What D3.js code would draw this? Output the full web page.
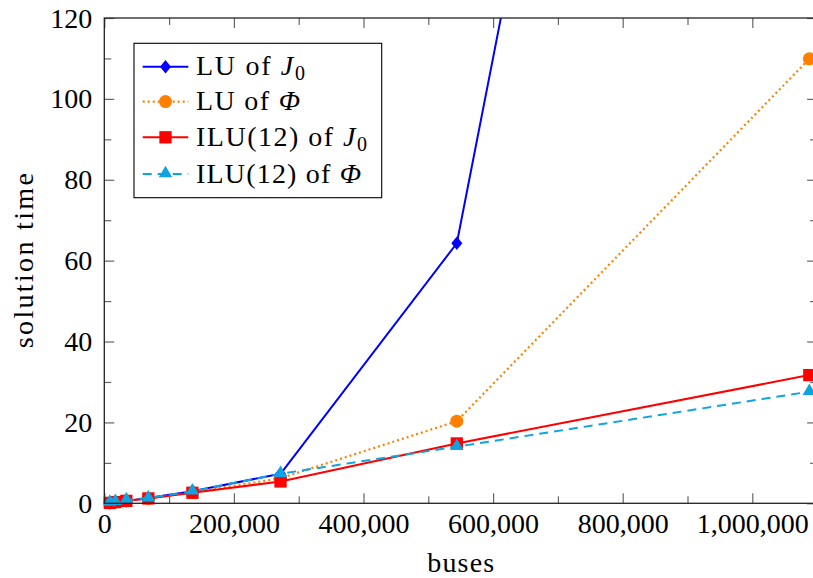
<!DOCTYPE html>
<html>
<head>
<meta charset="utf-8">
<script src="https://cdn.jsdelivr.net/npm/d3@7"></script>
<style>
  html, body { margin: 0; padding: 0; background: #fff; overflow: hidden; }
  svg { display: block; font-family: "Liberation Serif", "DejaVu Serif", serif; }
</style>
</head>
<body>
<svg id="chart" width="813" height="578"></svg>
<script>
// ---- data ----
const buses      = [8500, 17000, 34000, 68000, 136000, 272000, 544000, 1088000];
const luJ0       = [0.1, 0.3, 0.6, 1.3, 3.0, 7.3, 64.3, 510];
const luPhi      = [0.1, 0.3, 0.6, 1.2, 2.7, 6.2, 20.3, 109.9];
const iluJ0      = [0.1, 0.3, 0.6, 1.2, 2.6, 5.4, 14.8, 31.7];
const iluPhi     = [0.2, 0.4, 0.8, 1.3, 3.0, 7.3, 14.0, 27.6];
const xMajorTicks = [0, 200000, 400000, 600000, 800000, 1000000];
const xMinorTicks = [100000, 300000, 500000, 700000, 900000];
const yMajorTicks = [0, 20, 40, 60, 80, 100, 120];
const yMinorTicks = [10, 30, 50, 70, 90, 110];
const xTitle = "buses";
const yTitle = "solution time";

// ---- setup ----
const svg = d3.select("#chart");
const L = 104.3, R = 817.1, T = 18, B = 503.3;
const x = d3.scaleLinear().domain([0, 1100000]).range([L, R]);
const y = d3.scaleLinear().domain([0, 120]).range([B, T]);
const FS = 28;

const series = [
  {vals: luJ0,  color: "#0000ff", dash: null,    width: 2,   marker: "diamond", textW: 109,
   label: [["LU of ", "n"], ["J", "i"], ["0", "s"]]},
  {vals: luPhi, color: "#ff8000", dash: "2 3",   width: 2.2, marker: "circle", textW: 104,
   label: [["LU of ", "n"], ["Φ", "i"]]},
  {vals: iluJ0, color: "#ff0000", dash: null,    width: 2,   marker: "square", textW: 171,
   label: [["ILU(12) of ", "n"], ["J", "i"], ["0", "s"]]},
  {vals: iluPhi,color: "#0ea3e3", dash: "9 6",   width: 2,   marker: "triangle", textW: 165,
   label: [["ILU(12) of ", "n"], ["Φ", "i"]]}
];

const diamondPts = [[0, -6.8], [5.5, 0], [0, 6.8], [-5.5, 0]];
function drawMarker(g, type, cx, cy, color) {
  if (type === "diamond") {
    g.append("path").attr("d", d3.line()(diamondPts) + "Z")
      .attr("transform", `translate(${cx},${cy})`).attr("fill", color);
  } else if (type === "circle") {
    g.append("circle").attr("cx", cx).attr("cy", cy).attr("r", 6.5).attr("fill", color);
  } else if (type === "square") {
    g.append("path").attr("d", d3.symbol(d3.symbolSquare, 151)())
      .attr("transform", `translate(${cx},${cy})`).attr("fill", color);
  } else if (type === "triangle") {
    g.append("path").attr("d", d3.symbol(d3.symbolTriangle, 78)())
      .attr("transform", `translate(${cx},${cy - 0.5})`).attr("fill", color);
  }
}

// ---- axes ----
const tickColor = "#666";
function styleAxis(sel) {
  sel.select(".domain").remove();
  sel.selectAll("line").attr("stroke", tickColor).attr("stroke-width", 1.2);
}
svg.append("g").attr("transform", `translate(0,${B})`)
  .call(d3.axisBottom(x).tickValues(xMajorTicks).tickSizeInner(-10).tickSizeOuter(0)
        .tickFormat(d3.format(",")))
  .call(styleAxis)
  .call(g => g.selectAll("text").attr("y", 30).attr("dy", null)
        .attr("font-size", FS).attr("fill", "#000")
        .attr("font-family", "Liberation Serif"));
svg.append("g").attr("transform", `translate(0,${B})`)
  .call(d3.axisBottom(x).tickValues(xMinorTicks).tickSizeInner(-7).tickSizeOuter(0).tickFormat(""))
  .call(styleAxis);
svg.append("g").attr("transform", `translate(0,${T})`)
  .call(d3.axisTop(x).tickValues(xMajorTicks).tickSizeInner(-10).tickSizeOuter(0).tickFormat(""))
  .call(styleAxis);
svg.append("g").attr("transform", `translate(0,${T})`)
  .call(d3.axisTop(x).tickValues(xMinorTicks).tickSizeInner(-7).tickSizeOuter(0).tickFormat(""))
  .call(styleAxis);
svg.append("g").attr("transform", `translate(${L},0)`)
  .call(d3.axisLeft(y).tickValues(yMajorTicks).tickSizeInner(-10).tickSizeOuter(0))
  .call(styleAxis)
  .call(g => g.selectAll("text").attr("x", -12).attr("dy", null).attr("y", 9)
        .attr("font-size", FS).attr("fill", "#000")
        .attr("font-family", "Liberation Serif"));
svg.append("g").attr("transform", `translate(${L},0)`)
  .call(d3.axisLeft(y).tickValues(yMinorTicks).tickSizeInner(-7).tickSizeOuter(0).tickFormat(""))
  .call(styleAxis);
svg.append("g").attr("transform", `translate(${R},0)`)
  .call(d3.axisRight(y).tickValues(yMajorTicks).tickSizeInner(-10).tickSizeOuter(0).tickFormat(""))
  .call(styleAxis);
svg.append("g").attr("transform", `translate(${R},0)`)
  .call(d3.axisRight(y).tickValues(yMinorTicks).tickSizeInner(-7).tickSizeOuter(0).tickFormat(""))
  .call(styleAxis);

// ---- clip + series ----
svg.append("defs").append("clipPath").attr("id", "plotclip")
  .append("rect").attr("x", L).attr("y", T).attr("width", R - L).attr("height", B - T);

const plot = svg.append("g");
series.forEach(s => {
  const line = d3.line().x((d, i) => x(buses[i])).y(d => y(d));
  plot.append("path").datum(s.vals)
    .attr("clip-path", "url(#plotclip)")
    .attr("d", line).attr("fill", "none")
    .attr("stroke", s.color).attr("stroke-width", s.width)
    .attr("stroke-dasharray", s.dash)
    .attr("stroke-linejoin", "round");
  const mg = plot.append("g");
  s.vals.forEach((v, i) => {
    if (v <= 120) drawMarker(mg, s.marker, x(buses[i]), y(v), s.color);
  });
});

// ---- frame ----
svg.append("rect").attr("x", L).attr("y", T).attr("width", R - L).attr("height", B - T)
  .attr("fill", "none").attr("stroke", "#222").attr("stroke-width", 1.3);

// ---- titles ----
svg.append("text").attr("x", (L + R) / 2).attr("y", 572).attr("text-anchor", "middle")
  .attr("font-size", FS).attr("textLength", 67).attr("lengthAdjust", "spacing").text(xTitle);
svg.append("text").attr("transform", `translate(33,${(T + B) / 2}) rotate(-90)`)
  .attr("text-anchor", "middle").attr("font-size", FS)
  .attr("textLength", 175).attr("lengthAdjust", "spacing").text(yTitle);

// ---- legend ----
const lg = svg.append("g");
lg.append("rect").attr("x", 134).attr("y", 43.3).attr("width", 247.7).attr("height", 154.4)
  .attr("fill", "#fff").attr("stroke", "#000").attr("stroke-width", 1.1);
const rowY = [66.7, 101.6, 137.3, 174];
series.forEach((s, i) => {
  const yy = rowY[i];
  lg.append("line").attr("x1", 142.7).attr("x2", 188.3).attr("y1", yy).attr("y2", yy)
    .attr("stroke", s.color).attr("stroke-width", s.width)
    .attr("stroke-dasharray", s.dash);
  drawMarker(lg, s.marker, 165.5, yy, s.color);
  const t = lg.append("text").attr("x", 196).attr("y", yy + 8.5).attr("font-size", FS)
    .attr("textLength", s.textW).attr("lengthAdjust", "spacing");
  s.label.forEach(([str, kind]) => {
    const ts = t.append("tspan").text(str);
    if (kind === "i") ts.attr("font-style", "italic");
    if (kind === "s") ts.attr("font-size", 20).attr("dy", 5);
  });
});
</script>
</body>
</html>
